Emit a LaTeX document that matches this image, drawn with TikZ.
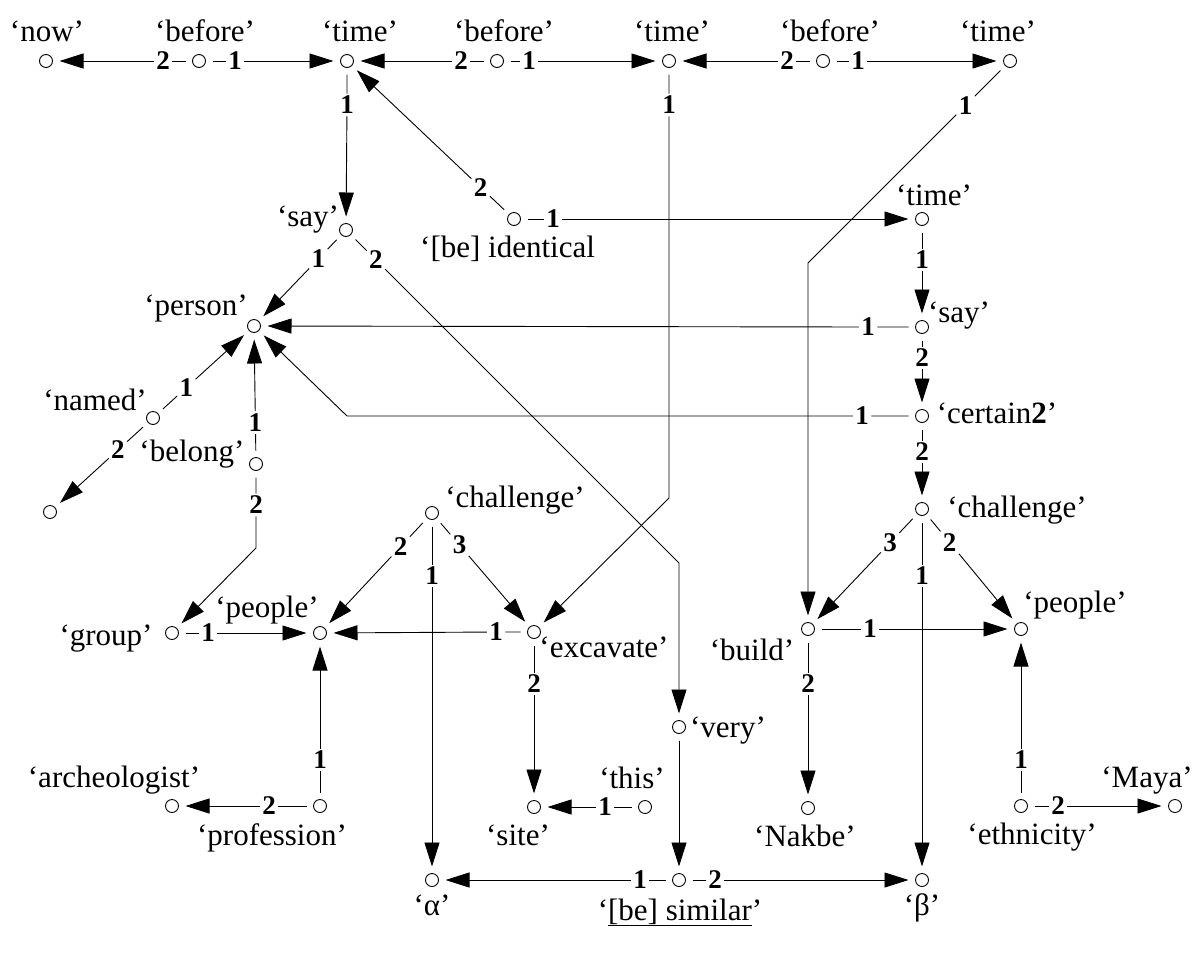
\documentclass[tikz,border=0pt]{standalone}
\usepackage{fontspec}
\setmainfont{Liberation Serif}
\usetikzlibrary{arrows.meta,calc}
\newcommand\labfont{\fontsize{31}{33}\selectfont}
\newcommand\numfont{\fontsize{27}{29}\selectfont\bfseries}
\begin{document}
\begin{tikzpicture}[x=1pt,y=-1pt,
  pt/.style={circle,draw,line width=0.9pt,minimum size=13pt,inner sep=0pt,outer sep=7pt},
  num/.style={font=\numfont,inner sep=0.5pt,outer sep=2pt},
  lab/.style={font=\labfont,inner sep=0pt,anchor=base},
  arr/.style={line width=0.9pt,-{Triangle[length=24pt,width=15pt]}},
  ln/.style={line width=0.9pt}]
\useasboundingbox (0,0) rectangle (1199,954);
% circles
\node[pt] (now) at (46,61) {};
\node[pt] (bef1) at (199,61) {};
\node[pt] (time1) at (347,61) {};
\node[pt] (bef2) at (497,61) {};
\node[pt] (time2) at (669,61) {};
\node[pt] (bef3) at (823,61) {};
\node[pt] (time3) at (1010,61) {};
\node[pt] (say1) at (346,230) {};
\node[pt] (ident) at (514,219) {};
\node[pt] (time4) at (922,219) {};
\node[pt] (person) at (254,326) {};
\node[pt] (say2) at (922,327) {};
\node[pt] (named) at (153,418) {};
\node[pt] (belong) at (256,464) {};
\node[pt] (anon) at (50,512) {};
\node[pt] (cert) at (922,416) {};
\node[pt] (chal2) at (922,509) {};
\node[pt] (chal1) at (432,513) {};
\node[pt] (group) at (172,633) {};
\node[pt] (people1) at (320,633) {};
\node[pt] (excav) at (534,632) {};
\node[pt] (build) at (808,629) {};
\node[pt] (people2) at (1021,629) {};
\node[pt] (very) at (679,727) {};
\node[pt] (arch) at (172,806) {};
\node[pt] (prof) at (320,806) {};
\node[pt] (site) at (534,807) {};
\node[pt] (this) at (645,807) {};
\node[pt] (nakbe) at (808,808) {};
\node[pt] (ethn) at (1021,806) {};
\node[pt] (maya) at (1175,806) {};
\node[pt] (alpha) at (432,880) {};
\node[pt] (similar) at (679,880) {};
\node[pt] (beta) at (922,880) {};
% corners
\coordinate (c8) at (669,498);
\coordinate (c9) at (808,263);
\coordinate (c13) at (679,563);
\coordinate (c17) at (347,416);
\coordinate (c29) at (256,548);
% number labels
\node[num] (l1) at (163,61) {2};
\node[num] (l2) at (235,61) {1};
\node[num] (l3) at (461,61) {2};
\node[num] (l4) at (529,61) {1};
\node[num] (l5) at (787,61) {2};
\node[num] (l6) at (858,61) {1};
\node[num] (l7) at (347,105) {1};
\node[num] (l8) at (669,105) {1};
\node[num] (l9) at ($(time3)!0.22!(c9)$) {1};
\node[num] (l10) at ($(ident)!0.2!(time1)$) {2};
\node[num] (l11) at (553,219) {1};
\node[num] (l12) at ($(say1)!0.3!(person)$) {1};
\node[num] (l13) at ($(say1)!0.09!(c13)$) {2};
\node[num] (l14) at (922,260) {1};
\node[num] (l15) at (868,327) {1};
\node[num] (l16) at (922,358) {2};
\node[num] (l17) at (862,416) {1};
\node[num] (l18) at (922,452) {2};
\node[num] (l19) at ($(chal2)!0.28!(build)$) {3};
\node[num] (l20) at ($(chal2)!0.28!(people2)$) {2};
\node[num] (l21) at (922,576) {1};
\node[num] (l22) at (870,629) {1};
\node[num] (l23) at (808,684) {2};
\node[num] (l24) at (1021,760) {1};
\node[num] (l25) at (1058,806) {2};
\node[num] (l26) at ($(named)!0.33!(person)$) {1};
\node[num] (l27) at ($(named)!0.34!(anon)$) {2};
\node[num] (l28) at ($(belong)!0.3!(person)$) {1};
\node[num] (l29) at (256,505) {2};
\node[num] (l30) at (208,633) {1};
\node[num] (l31) at ($(chal1)!0.28!(people1)$) {2};
\node[num] (l32) at ($(chal1)!0.27!(excav)$) {3};
\node[num] (l33) at (432,576) {1};
\node[num] (l34) at (496,632) {1};
\node[num] (l35) at (534,684) {2};
\node[num] (l36) at (320,760) {1};
\node[num] (l37) at (269,806) {2};
\node[num] (l38) at (605,807) {1};
\node[num] (l40) at (640,880) {1};
\node[num] (l41) at (715,880) {2};
% connectors
\draw[arr] (bef1) -- (l1) -- (now);
\draw[arr] (bef1) -- (l2) -- (time1);
\draw[arr] (bef2) -- (l3) -- (time1);
\draw[arr] (bef2) -- (l4) -- (time2);
\draw[arr] (bef3) -- (l5) -- (time2);
\draw[arr] (bef3) -- (l6) -- (time3);
\draw[arr] (time1) -- (l7) -- (say1);
\draw[arr] (time2) -- (l8) -- (c8) -- (excav);
\draw[arr] (time3) -- (l9) -- (c9) -- (build);
\draw[arr] (ident) -- (l10) -- (time1);
\draw[arr] (ident) -- (l11) -- (time4);
\draw[arr] (say1) -- (l12) -- (person);
\draw[arr] (say1) -- (l13) -- (c13) -- (very);
\draw[arr] (time4) -- (l14) -- (say2);
\draw[arr] (say2) -- (l15) -- (person);
\draw[arr] (say2) -- (l16) -- (cert);
\draw[arr] (cert) -- (l17) -- (c17) -- (person);
\draw[arr] (cert) -- (l18) -- (chal2);
\draw[arr] (chal2) -- (l19) -- (build);
\draw[arr] (chal2) -- (l20) -- (people2);
\draw[arr] (chal2) -- (l21) -- (beta);
\draw[arr] (build) -- (l22) -- (people2);
\draw[arr] (build) -- (l23) -- (nakbe);
\draw[arr] (ethn) -- (l24) -- (people2);
\draw[arr] (ethn) -- (l25) -- (maya);
\draw[arr] (named) -- (l26) -- (person);
\draw[arr] (named) -- (l27) -- (anon);
\draw[arr] (belong) -- (l28) -- (person);
\draw[arr] (belong) -- (l29) -- (c29) -- (group);
\draw[arr] (group) -- (l30) -- (people1);
\draw[arr] (chal1) -- (l31) -- (people1);
\draw[arr] (chal1) -- (l32) -- (excav);
\draw[arr] (chal1) -- (l33) -- (alpha);
\draw[arr] (excav) -- (l34) -- (people1);
\draw[arr] (excav) -- (l35) -- (site);
\draw[arr] (prof) -- (l36) -- (people1);
\draw[arr] (prof) -- (l37) -- (arch);
\draw[arr] (this) -- (l38) -- (site);
\draw[arr] (very) -- (similar);
\draw[arr] (similar) -- (l40) -- (alpha);
\draw[arr] (similar) -- (l41) -- (beta);
% text labels
\node[lab] (tnow) at (47,41) {‘now’};
\node[lab] (tbef1) at (205,41) {‘before’};
\node[lab] (ttime1) at (360,41) {‘time’};
\node[lab] (tbef2) at (504,41) {‘before’};
\node[lab] (ttime2) at (672,41) {‘time’};
\node[lab] (tbef3) at (830,41) {‘before’};
\node[lab] (ttime3) at (998,41) {‘time’};
\node[lab] (tsay1) at (308,226) {‘say’};
\node[lab,anchor=base west] (tident) at (420,257) {‘[be] identical};
\node[lab] (ttime4) at (934,205) {‘time’};
\node[lab] (tperson) at (196,315) {‘person’};
\node[lab] (tsay2) at (959,322) {‘say’};
\node[lab] (tnamed) at (95,410) {‘named’};
\node[lab] (tbelong) at (192,461) {‘belong’};
\node[lab] (tcert) at (997,423) {‘certain\textbf{2}’};
\node[lab] (tchal2) at (1017,517) {‘challenge’};
\node[lab] (tchal1) at (515,507) {‘challenge’};
\node[lab] (tgroup) at (106,645) {‘group’};
\node[lab] (tpeople1) at (267,617) {‘people’};
\node[lab] (texcav) at (604,657) {‘excavate’};
\node[lab] (tbuild) at (752,660) {‘build’};
\node[lab] (tpeople2) at (1075,612) {‘people’};
\node[lab] (tvery) at (728,737) {‘very’};
\node[lab] (tthis) at (632,788) {‘this’};
\node[lab] (tarch) at (114,787) {‘archeologist’};
\node[lab] (tmaya) at (1147,787) {‘Maya’};
\node[lab] (tprof) at (272,845) {‘profession’};
\node[lab] (tsite) at (518,845) {‘site’};
\node[lab] (tnakbe) at (805,846) {‘Nakbe’};
\node[lab] (tethn) at (1032,844) {‘ethnicity’};
\node[lab] (talpha) at (432,915) {‘α’};
\node[lab] (tsim) at (680,920) {‘\underline{[be] similar}’};
\node[lab] (tbeta) at (922,915) {‘β’};
\end{tikzpicture}
\end{document}
